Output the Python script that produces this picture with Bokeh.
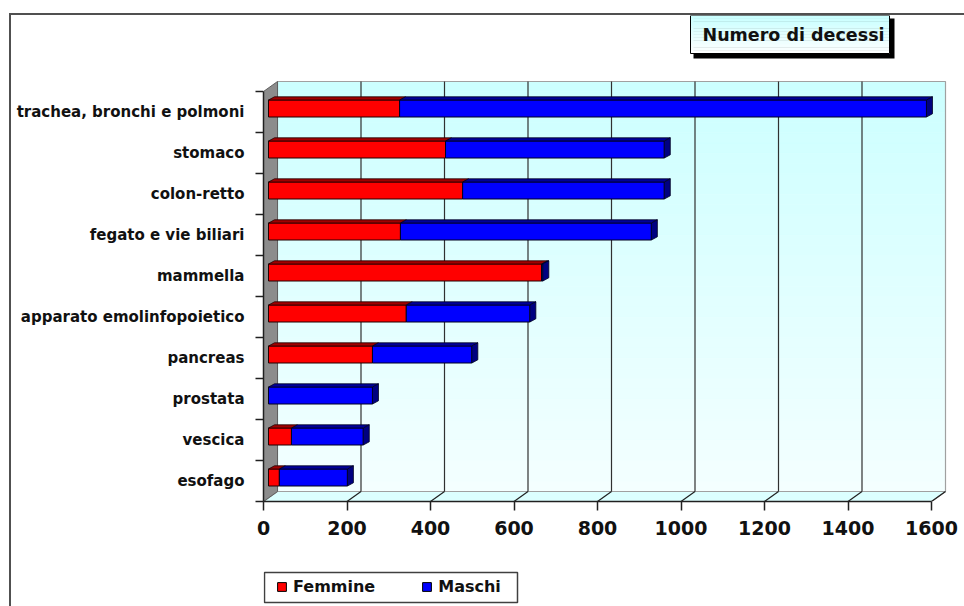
from bokeh.plotting import figure
from bokeh.layouts import column
from bokeh.models import Range1d, FixedTicker, Label, Legend, LegendItem
from bokeh.embed import file_html
from bokeh.resources import INLINE

# ---------------- data ----------------
categories = ["esofago", "vescica", "prostata", "pancreas", "apparato emolinfopoietico",
              "mammella", "fegato e vie biliari", "colon-retto", "stomaco",
              "trachea, bronchi e polmoni"]
femmine = [26, 55, 0, 249, 330, 654, 316, 465, 424, 314]
maschi = [163, 172, 249, 238, 296, 3, 601, 483, 524, 1262]
x_ticks = [0, 200, 400, 600, 800, 1000, 1200, 1400, 1600]
series_names = ["Femmine", "Maschi"]
title_text = "Numero di decessi"
colors_front = ["#ff0000", "#0000ff"]

# ---------------- layout helpers (page pixels) ----------------
OX, OY = 11, 15                      # canvas origin on the page (after css margin+border)
W = 964 - OX
SPLIT = 560                          # page y where the legend strip begins
H1, H2 = SPLIT - OY, 606 - SPLIT
PX = 668 / 1600.0                    # px per unit on x
PY = 41.0                            # px per category
X0_PAGE, Y0_PAGE = 263, 501
FR_RIGHT = 952
def px2x(px):
    return (px - X0_PAGE) / PX
def px2y(py):
    return (Y0_PAGE - py) / PY - 0.5

XMAX = x_ticks[-1]
DX, DY = 14 / PX, 10 / PY                 # full depth of the 3D box
BX0, BY0 = 5 / PX, 3.5 / PY               # bar front-face offset
BDX, BDY = 6 / PX, 3.2 / PY               # bar depth
BH = 17 / PY                              # bar height
YB, YT = -0.5, len(categories) - 0.5

p = figure(width=W, height=H1, output_backend="svg", toolbar_location=None,
           x_range=Range1d(0, px2x(FR_RIGHT)), y_range=Range1d(YB, px2y(OY)),
           min_border_left=X0_PAGE - OX, min_border_right=964 - FR_RIGHT,
           min_border_top=0, min_border_bottom=SPLIT - Y0_PAGE)
p.outline_line_color = None
p.xgrid.visible = False
p.ygrid.visible = False
p.background_fill_color = "white"
p.border_fill_color = "white"

# ---------------- back wall (gradient) ----------------
n = 40
wb, wt = YB + DY, YT + DY
bot, top, cols = [], [], []
for k in range(n):
    b = wb + (wt - wb) * k / n
    t = wb + (wt - wb) * (k + 1) / n
    f = (k + 0.5) / n
    g = int(round(244 - (244 - 204) * f))
    bot.append(b); top.append(t); cols.append("#%02xffff" % g)
p.quad(left=DX, right=XMAX + DX, bottom=bot, top=top, fill_color=cols, line_color=cols,
       line_width=0.6)
p.patch([DX, DX, XMAX + DX, XMAX + DX], [wb, wt, wt, wb], fill_color=None,
        line_color="#a0a0a0", line_width=1.2)

# floor
p.patch([0, XMAX, XMAX + DX, DX], [YB, YB, YB + DY, YB + DY], fill_color="#dcffff",
        line_color="#a0a0a0", line_width=1.2)
# side wall
p.patch([0, DX, DX, 0], [YB, YB + DY, YT + DY, YT], fill_color="#8c8c8c",
        line_color="#606060", line_width=1)

# grid lines on back wall and floor connectors
gx = [t + DX for t in x_ticks[1:-1]]
p.segment(x0=gx, y0=[wb] * len(gx), x1=gx, y1=[wt] * len(gx), line_color="#303030",
          line_width=1.2)
fx = x_ticks[1:]
p.segment(x0=fx, y0=[YB] * len(fx), x1=[t + DX for t in fx], y1=[YB + DY] * len(fx),
          line_color="#202020", line_width=1.2)

# ---------------- bars ----------------
yc = [i + BY0 for i in range(len(categories))]
f_left = [BX0 for _ in femmine]
f_right = [BX0 + f for f in femmine]
m_left = f_right
m_right = [BX0 + f + m for f, m in zip(femmine, maschi)]

def top_faces(lefts, rights):
    xs, ys = [], []
    for l, r, y in zip(lefts, rights, yc):
        if r - l <= 0:
            continue
        yt = y + BH / 2
        xs.append([l, r, r + BDX, l + BDX])
        ys.append([yt, yt, yt + BDY, yt + BDY])
    return xs, ys

p.hbar(y=yc, left=f_left, right=f_right, height=BH, fill_color=colors_front[0],
       line_color="#200000", line_width=1)
p.hbar(y=yc, left=m_left, right=m_right, height=BH, fill_color=colors_front[1],
       line_color="#000020", line_width=1)
xs, ys = top_faces(f_left, f_right)
p.patches(xs, ys, fill_color="#a00000", line_color="#200000", line_width=0.8)
xs, ys = top_faces(m_left, m_right)
p.patches(xs, ys, fill_color="#000099", line_color="#000020", line_width=0.8)
cx, cy = [], []
for r, y in zip(m_right, yc):
    yb, yt = y - BH / 2, y + BH / 2
    cx.append([r, r + BDX, r + BDX, r])
    cy.append([yb, yb + BDY, yt + BDY, yt])
p.patches(cx, cy, fill_color="#000080", line_color="#000020", line_width=0.8)

# ---------------- axes ----------------
xa = p.xaxis[0]
xa.ticker = FixedTicker(ticks=x_ticks)
xa.bounds = (0, XMAX)
xa.axis_line_color = "#202020"
xa.axis_line_width = 1.5
xa.major_tick_line_color = "#202020"
xa.major_tick_line_width = 1.5
xa.major_tick_out = 9
xa.major_tick_in = 0
xa.minor_tick_line_color = None
xa.major_label_standoff = 10
xa.major_label_text_font = "DejaVu Sans"
xa.major_label_text_font_style = "bold"
xa.major_label_text_font_size = "19px"
xa.major_label_text_color = "#111111"

ya = p.yaxis[0]
ya.ticker = FixedTicker(ticks=list(range(len(categories))),
                        minor_ticks=[i - 0.5 for i in range(len(categories) + 1)])
ya.bounds = (YB, YT)
ya.major_label_overrides = {i: c for i, c in enumerate(categories)}
ya.axis_line_color = "#202020"
ya.axis_line_width = 1.5
ya.major_tick_out = 0
ya.major_tick_in = 0
ya.minor_tick_out = 8
ya.minor_tick_in = 0
ya.minor_tick_line_color = "#202020"
ya.minor_tick_line_width = 1.5
ya.major_label_standoff = 11
ya.major_label_text_font = "DejaVu Sans"
ya.major_label_text_font_style = "bold"
ya.major_label_text_font_size = "15px"
ya.major_label_text_color = "#111111"

# ---------------- title box ----------------
p.quad(left=px2x(693), right=px2x(894), top=px2y(18), bottom=px2y(58), fill_color="black",
       line_color=None)
tb, tt = px2y(53), px2y(15)
m = 12
tbot, ttop, tcol = [], [], []
for k in range(m):
    b = tb + (tt - tb) * k / m
    t = tb + (tt - tb) * (k + 1) / m
    f = (k + 0.5) / m
    g = int(round(255 - (255 - 200) * f))
    tbot.append(b); ttop.append(t); tcol.append("#%02xffff" % g)
p.quad(left=px2x(690), right=px2x(889), bottom=tbot, top=ttop, fill_color=tcol,
       line_color=tcol, line_width=0.6)
p.quad(left=px2x(690), right=px2x(889), bottom=tb, top=tt, fill_color=None,
       line_color="black", line_width=1)
p.add_layout(Label(x=px2x(702), y=px2y(34), text=title_text, text_font="DejaVu Sans",
                   text_font_style="bold", text_font_size="17.5px", text_baseline="middle",
                   text_color="#111111"))

# ---------------- legend strip (second figure; its frame is aligned to the chart's) ----------
q = figure(width=W, height=H2, output_backend="svg", toolbar_location=None,
           x_range=Range1d(X0_PAGE, FR_RIGHT), y_range=Range1d(606, SPLIT),
           x_axis_type=None, y_axis_type=None,
           min_border_left=X0_PAGE - OX, min_border_right=964 - FR_RIGHT,
           min_border_top=0, min_border_bottom=0)
q.outline_line_color = None
q.xgrid.visible = False
q.ygrid.visible = False
q.background_fill_color = "white"
q.border_fill_color = "white"
# legend frame (page pixels)
q.quad(left=264, right=517, top=572, bottom=602, fill_color="white",
       line_color="#404040", line_width=1.5)
lr = [q.quad(left=[0], right=[1], top=[0], bottom=[1], fill_color=c, line_color="black",
             line_width=1) for c in colors_front]
legend = Legend(items=[LegendItem(label=s, renderers=[r]) for s, r in zip(series_names, lr)],
                orientation="horizontal", location=(13, 10), margin=0,
                padding=6, spacing=46, glyph_width=11, glyph_height=11, label_standoff=6,
                label_height=18,
                label_text_font="DejaVu Sans", label_text_font_style="bold",
                label_text_font_size="16px", label_text_color="#111111",
                border_line_color=None, background_fill_alpha=0)
q.add_layout(legend, "center")

layout = column(p, q, spacing=0,
                styles={"margin-left": "9px", "margin-top": "13px",
                        "border-left": "2px solid #505050", "border-top": "2px solid #505050"})

open("out.html", "w").write(file_html(layout, INLINE))
